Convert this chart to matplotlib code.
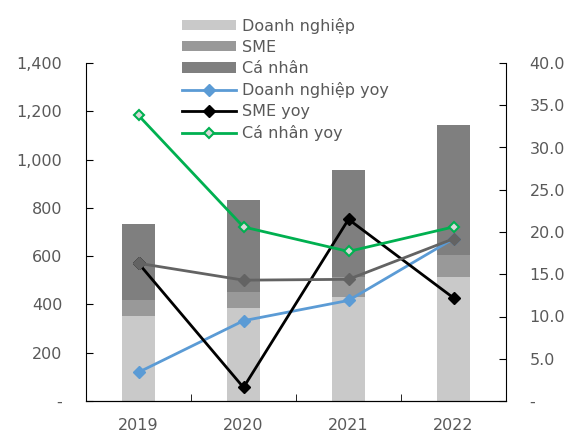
import matplotlib.pyplot as plt
from matplotlib.ticker import FuncFormatter

years = ["2019", "2020", "2021", "2022"]
doanh_nghiep = [352, 386, 431, 514]
sme = [66, 65, 81, 91]
ca_nhan = [315, 382, 445, 538]

dn_yoy = [3.4, 9.5, 11.9, 19.2]
sme_yoy = [16.3, 1.6, 21.5, 12.2]
cn_yoy = [33.8, 20.6, 17.7, 20.6]
total_yoy = [16.3, 14.3, 14.4, 19.2]

TXT = "#595959"
plt.rcParams["font.family"] = ["DejaVu Sans"]
plt.rcParams["font.size"] = 11.5

fig = plt.figure(figsize=(5.76, 4.36), dpi=100)
ax = fig.add_axes([86 / 576, 1 - 401 / 436, 420 / 576, 338 / 436])
x = list(range(len(years)))
w = 0.31

b1 = ax.bar(x, doanh_nghiep, w, color="#c9c9c9", label="Doanh nghiệp", zorder=1)
b2 = ax.bar(x, sme, w, bottom=doanh_nghiep, color="#999999", label="SME", zorder=1)
base3 = [a + b for a, b in zip(doanh_nghiep, sme)]
b3 = ax.bar(x, ca_nhan, w, bottom=base3, color="#7f7f7f", label="Cá nhân", zorder=1)

ax.set_xlim(-0.5, 3.5)
ax.set_ylim(0, 1400)
ax.set_yticks(range(0, 1401, 200))
ax.yaxis.set_major_formatter(FuncFormatter(lambda v, p: "-" if v == 0 else f"{v:,.0f}"))
ax.set_xticks(x)
ax.set_xticklabels(years)
ax.set_xticks([0.5, 1.5, 2.5], minor=True)
ax.tick_params(axis="x", which="major", length=0, labelcolor=TXT, pad=12)
ax.tick_params(axis="x", which="minor", direction="in", length=5)
ax.tick_params(axis="y", direction="in", length=5, labelcolor=TXT, pad=17)
for s in ["top", "right"]:
    ax.spines[s].set_visible(False)

ax2 = ax.twinx()
ax2.set_ylim(0, 40)
ax2.set_yticks(range(0, 41, 5))
ax2.yaxis.set_major_formatter(FuncFormatter(lambda v, p: "-" if v == 0 else f"{v:.1f}"))
ax2.tick_params(axis="y", direction="in", length=5, labelcolor=TXT, pad=17)
ax2.spines["top"].set_visible(False)
ax2.spines["left"].set_visible(False)

l1, = ax2.plot(x, dn_yoy, color="#5b9bd5", lw=2, marker="D", ms=6, label="Doanh nghiệp yoy")
l2, = ax2.plot(x, sme_yoy, color="black", lw=2, marker="D", ms=6, label="SME yoy")
l3, = ax2.plot(x, cn_yoy, color="#00b050", lw=2, marker="D", ms=5,
               mfc="#d9d9d9", mec="#00b050", mew=1.5, label="Cá nhân yoy")
ax2.plot(x, total_yoy, color="#636363", lw=2, marker="D", ms=6)

fig.legend(handles=[b1, b2, b3, l1, l2, l3], loc="upper left",
           bbox_to_anchor=(174 / 576, 1 - 10 / 436), frameon=False,
           labelcolor=TXT, handlelength=3.4, handleheight=0.6, handletextpad=0.35,
           labelspacing=0.38, borderpad=0, fontsize=11.5)

fig.savefig("out.png", dpi=100)
